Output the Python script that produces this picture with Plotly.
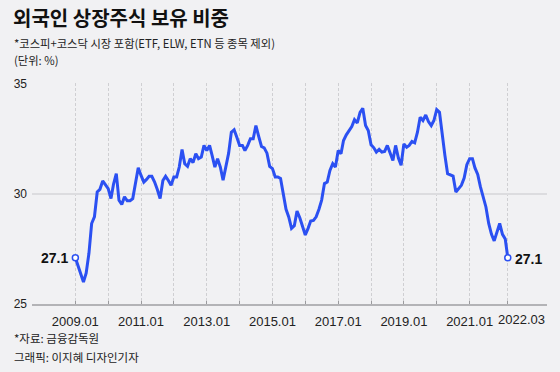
import plotly.graph_objects as go
import pandas as pd

# ---- data (monthly, 2009.01 - 2022.03), foreign ownership share of listed stocks (%)
values = [
    27.1, 26.7, 26.3, 26.0, 26.4, 27.3, 28.65, 28.95, 30.08, 30.2, 30.58, 30.38,   # 2009
    30.23, 29.78, 30.43, 30.91, 29.7, 29.51, 29.86, 29.68, 29.68, 29.78, 30.6, 31.18,  # 2010
    30.83, 30.53, 30.64, 30.79, 30.79, 30.53, 30.19, 29.78, 30.6, 30.79, 30.6, 30.38,  # 2011
    30.76, 30.76, 31.21, 32.0, 31.36, 31.24, 31.59, 31.41, 31.81, 31.59, 31.66, 32.19,  # 2012
    31.96, 32.19, 31.74, 31.21, 31.59, 31.2, 30.61, 31.29, 31.84, 32.79, 32.9, 32.56,   # 2013
    32.19, 32.19, 31.96, 32.19, 32.49, 32.49, 33.09, 32.6, 32.14, 32.08, 31.84, 31.24,  # 2014
    31.14, 30.76, 30.76, 30.69, 30.08, 29.29, 28.95, 28.43, 28.55, 29.21, 28.91, 28.55, # 2015
    28.13, 28.43, 28.76, 28.79, 28.95, 29.3, 29.71, 30.46, 30.53, 31.06, 31.36, 31.21,  # 2016
    31.96, 31.81, 32.41, 32.67, 32.88, 33.05, 33.36, 33.21, 33.69, 33.87, 33.09, 32.87, # 2017
    32.22, 32.08, 31.89, 32.01, 31.89, 31.92, 32.19, 31.86, 31.51, 32.19, 31.62, 31.29, # 2018
    32.26, 32.11, 32.19, 32.37, 32.31, 32.79, 33.47, 33.32, 33.57, 33.27, 33.09, 33.32, # 2019
    33.81, 33.69, 32.64, 31.74, 30.91, 30.87, 30.8, 30.08, 30.26, 30.38, 30.71, 31.32,  # 2020
    31.59, 31.59, 31.17, 30.87, 30.31, 29.9, 29.4, 28.65, 28.16, 27.86, 28.25, 28.65,   # 2021
    28.16, 27.95, 27.1,                                                                 # 2022
]
start_month = "2009-01-01"
dates = pd.date_range(start=start_month, periods=len(values), freq="MS")

tick_dates = ["2009-01-01", "2010-01-01", "2011-01-01", "2012-01-01", "2013-01-01",
              "2014-01-01", "2015-01-01", "2016-01-01", "2017-01-01", "2018-01-01",
              "2019-01-01", "2020-01-01", "2021-01-01", "2022-03-01"]
tick_labels = ["2009.01", "", "2011.01", "", "2013.01", "", "2015.01", "",
               "2017.01", "", "2019.01", "", "2021.01", ""]
last_label = "2022.03"
y_ticks = [25, 30, 35]

title = "외국인 상장주식 보유 비중"
subtitle = "*코스피+코스닥 시장 포함(ETF, ELW, ETN 등 종목 제외)"
unit = "(단위: %)"
source = "*자료: 금융감독원"
credit = "그래픽: 이지혜 디자인기자"

W, H = 560, 372
L, R, T, B = 32, 13, 83, 68
PW, PH = W - L - R, H - T - B

BLUE = "#2b50f2"
BG = "#f1f1f3"
KFONT = "Noto Sans CJK KR"
NFONT = "Liberation Sans, Arial"


def px(x):
    return (x - L) / PW


def py(y):
    return (H - B - y) / PH


fig = go.Figure()
fig.add_trace(go.Scatter(
    x=dates, y=values, mode="lines",
    line=dict(color=BLUE, width=3),
    hoverinfo="x+y", showlegend=False,
))
fig.add_trace(go.Scatter(
    x=[dates[0], dates[-1]], y=[values[0], values[-1]], mode="markers",
    marker=dict(color="white", size=6, line=dict(color=BLUE, width=1.5)),
    hoverinfo="skip", showlegend=False, cliponaxis=False,
))


def note(text, x, y, size=12, family=KFONT, color="#222"):
    return dict(text=text, x=px(x), y=py(y), xref="paper", yref="paper",
                xanchor="left", yanchor="middle", showarrow=False,
                font=dict(family=family, size=size, color=color))


annotations = [
    note("<b>" + title + "</b>", 11, 18, size=20, color="#111"),
    note(subtitle, 12, 42.5, size=11.3),
    note(unit, 12, 60, size=11.3),
    note(source, 12, 337.5, size=11.5),
    note(credit, 12, 357, size=11.5),
    dict(text=last_label, x=px(521.5), y=py(319), xref="paper", yref="paper",
         xanchor="center", yanchor="middle", showarrow=False,
         font=dict(family=NFONT, size=13, color="#222")),
    dict(text="<b>%.1f</b>" % values[0], x=dates[0], y=values[0], xref="x", yref="y",
         xanchor="right", yanchor="middle", xshift=-5, yshift=0,
         font=dict(family=NFONT, size=14, color="#111"), showarrow=False),
    dict(text="<b>%.1f</b>" % values[-1], x=dates[-1], y=values[-1], xref="x", yref="y",
         xanchor="left", yanchor="middle", xshift=5, yshift=-1,
         font=dict(family=NFONT, size=14, color="#111"), showarrow=False),
]

fig.update_layout(
    width=W, height=H,
    margin=dict(l=L, r=R, t=T, b=B),
    paper_bgcolor=BG, plot_bgcolor=BG,
    annotations=annotations,
    xaxis=dict(
        type="date", automargin=False,
        range=["2007-09-07", "2023-05-11"],
        tickmode="array", tickvals=tick_dates, ticktext=tick_labels,
        tickangle=0,
        showgrid=True, gridcolor="#cfcfd2", gridwidth=1, griddash="3px,2px",
        showline=True, linecolor="#b3b3b6", linewidth=2,
        ticks="inside", ticklen=3, tickcolor="#9a9a9d", tickwidth=1,
        ticklabelstandoff=4,
        tickfont=dict(family=NFONT, size=13, color="#222"),
        zeroline=False, fixedrange=True,
    ),
    yaxis=dict(
        automargin=False,
        range=[25, 35.02],
        tickmode="array", tickvals=y_ticks,
        showgrid=True, gridcolor="#dcdcdf", gridwidth=2,
        zeroline=False, showline=False, ticks="",
        ticklabelstandoff=4,
        tickfont=dict(family=NFONT, size=12, color="#222"),
        fixedrange=True,
    ),
)

fig.write_html(
    "out.html",
    config={"displayModeBar": False},
    post_script="document.body.style.margin='0';document.body.style.background='#f1f1f3';",
)
